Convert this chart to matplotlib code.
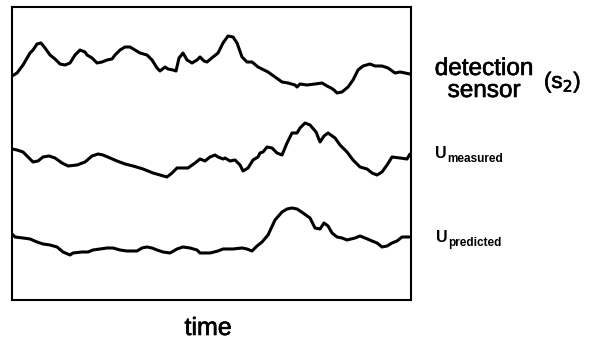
import numpy as np
import matplotlib
matplotlib.use("Agg")
import matplotlib.pyplot as plt
import matplotlib.patheffects as pe

plt.rcParams['font.family'] = ['Liberation Sans', 'DejaVu Sans']

# traces: time (arbitrary units), signal height
t_sensor = [0, 5, 11, 18, 21, 25, 29, 33, 38, 43, 48, 53, 58, 63, 68, 73, 75, 80, 85, 90, 95, 100,
            103, 108, 113, 118, 123, 128, 135, 140, 145, 148, 153, 156, 161, 164, 167, 171, 175, 180,
            185, 188, 192, 195, 201, 206, 211, 216, 221, 225, 230, 235, 240, 246, 256, 263, 270, 276,
            283, 285, 288, 295, 303, 310, 315, 319, 322, 325, 330, 336, 341, 346, 351, 358, 363, 370,
            376, 383, 388, 393, 398]
y_sensor = [224, 227, 235, 247, 250, 256, 257, 252, 245, 241, 236, 235, 237, 245, 250, 248, 245, 242,
            237, 238, 240, 241, 245, 250, 253, 253, 250, 247, 245, 240, 232, 229, 233, 231, 230, 229,
            242, 247, 240, 237, 240, 243, 239, 238, 243, 247, 257, 264, 263, 257, 243, 238, 238, 233,
            228, 223, 218, 217, 215, 213, 216, 215, 216, 217, 214, 212, 210, 207, 208, 213, 220, 230,
            234, 236, 234, 234, 232, 227, 228, 227, 226]

t_meas = [0, 5, 11, 16, 21, 26, 31, 37, 43, 50, 56, 65, 73, 80, 86, 91, 98, 105, 113, 121, 131, 141,
          148, 155, 160, 165, 170, 176, 183, 188, 193, 198, 203, 206, 211, 213, 218, 223, 228, 231,
          236, 241, 246, 248, 251, 255, 260, 265, 270, 275, 280, 285, 288, 293, 298, 304, 308, 312,
          316, 323, 328, 335, 341, 348, 355, 360, 365, 370, 375, 380, 388, 395, 398]
y_meas = [151, 150, 148, 143, 138, 139, 143, 144, 142, 137, 134, 135, 138, 144, 146, 145, 142, 139,
          136, 134, 131, 127, 125, 123, 127, 132, 132, 132, 137, 141, 139, 143, 145, 143, 141, 142,
          139, 140, 135, 129, 132, 140, 143, 147, 148, 153, 152, 147, 145, 157, 167, 167, 172, 177,
          175, 168, 158, 164, 167, 162, 155, 148, 140, 133, 131, 127, 125, 128, 135, 143, 142, 141,
          146]

t_pred = [0, 3, 11, 18, 25, 31, 38, 45, 51, 58, 61, 70, 76, 81, 88, 95, 101, 108, 115, 121, 125, 130,
          135, 140, 145, 151, 158, 165, 171, 178, 185, 188, 198, 206, 211, 221, 230, 235, 240, 245, 250,
          256, 263, 270, 275, 280, 285, 291, 298, 303, 308, 312, 316, 320, 325, 330, 335, 343, 348, 353,
          360, 365, 370, 375, 380, 385, 390, 395, 397]
y_pred = [66, 63, 62, 61, 58, 56, 55, 53, 48, 45, 47, 48, 48, 50, 51, 52, 52, 50, 49, 49, 49, 52, 53,
          52, 50, 48, 47, 51, 53, 52, 50, 47, 47, 49, 51, 51, 52, 51, 49, 54, 58, 65, 80, 88, 91, 92,
          91, 87, 82, 72, 71, 77, 74, 67, 63, 62, 60, 62, 64, 62, 59, 57, 53, 54, 57, 59, 63, 63, 63]

fig = plt.figure(figsize=(5.92, 3.43), dpi=100)
ax = fig.add_axes([0.0203, 0.1254, 0.6740, 0.8542])

for t, y in [(t_sensor, y_sensor), (t_meas, y_meas), (t_pred, y_pred)]:
    ax.plot(t, y, color='black', lw=2.2, solid_joinstyle='round', solid_capstyle='round')

ax.set_xlim(0, 399)
ax.set_ylim(0, 293)
ax.set_xticks([])
ax.set_yticks([])
for s in ax.spines.values():
    s.set_linewidth(1.5)

# scanned text looks a bit heavier than regular weight
thick = [pe.withStroke(linewidth=0.45, foreground='black')]

fig.text(484 / 592, 1 - 75 / 343, 'detection', fontsize=17.5, ha='center', va='baseline', path_effects=thick)
fig.text(484 / 592, 1 - 97 / 343, 'sensor', fontsize=17.5, ha='center', va='baseline', path_effects=thick)
fig.text(544 / 592, 1 - 88 / 343, '(s$_2$)', fontsize=16, ha='left', va='baseline', path_effects=thick)

fig.text(435 / 592, 1 - 158 / 343, 'U', fontsize=11.5, fontweight='bold', ha='left', va='baseline')
fig.text(447 / 592, 1 - 162 / 343, 'measured', fontsize=8.5, fontweight='bold', ha='left', va='baseline')
fig.text(436 / 592, 1 - 242 / 343, 'U', fontsize=11.5, fontweight='bold', ha='left', va='baseline')
fig.text(448 / 592, 1 - 246 / 343, 'predicted', fontsize=8.5, fontweight='bold', ha='left', va='baseline')

fig.text(208 / 592, 1 - 335 / 343, 'time', fontsize=18, ha='center', va='baseline', path_effects=thick)

fig.savefig('out.png', dpi=100)
